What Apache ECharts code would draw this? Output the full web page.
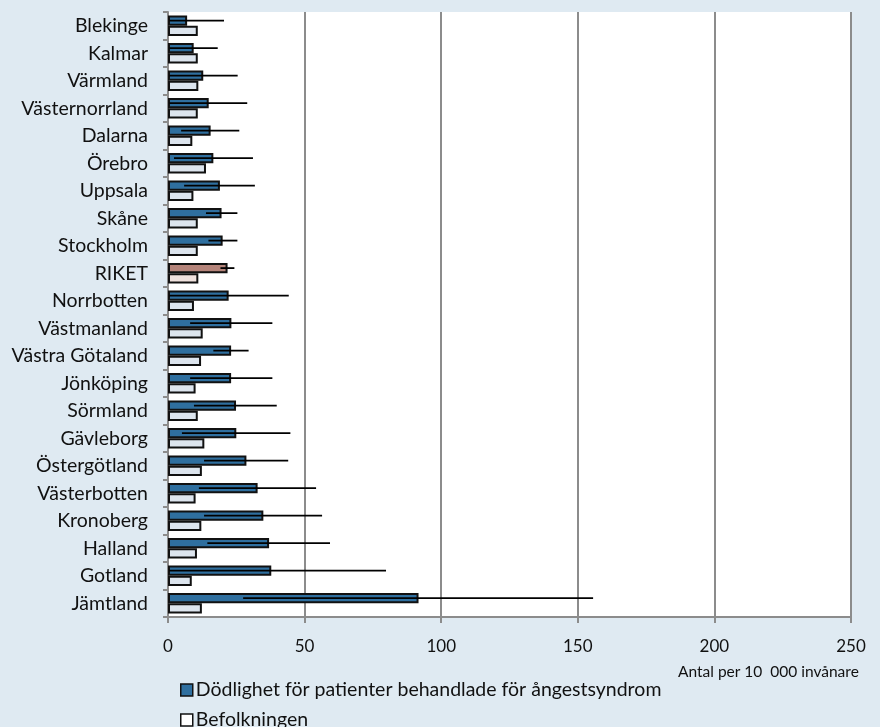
<!DOCTYPE html>
<html><head><meta charset="utf-8">
<script src="https://cdn.jsdelivr.net/npm/echarts@6/dist/echarts.min.js"></script>
<style>html,body{margin:0;padding:0;background:#dfeaf2;}#c{width:880px;height:727px;}</style>
</head><body><div id="c"></div>
<script>
const categories = ['Blekinge','Kalmar','Värmland','Västernorrland','Dalarna','Örebro','Uppsala','Skåne','Stockholm','RIKET','Norrbotten','Västmanland','Västra Götaland','Jönköping','Sörmland','Gävleborg','Östergötland','Västerbotten','Kronoberg','Halland','Gotland','Jämtland'];
const mortality = [7.0,9.4,12.9,14.9,15.6,16.6,19.0,19.6,20.0,21.8,22.2,23.2,23.1,23.1,24.9,25.0,28.7,32.8,34.9,37.0,37.8,91.7];
const ciLow =     [0.5,0.5,0.5,0.5,4.8,2.2,5.9,13.9,14.8,19.2,0.5,8.1,16.6,8.1,9.5,5.1,13.2,11.3,13.2,14.4,0.4,27.5];
const ciHigh =    [20.5,18.2,25.5,29.0,26.1,31.1,31.8,25.4,25.4,24.3,44.2,38.2,29.5,38.2,39.8,44.8,44.0,54.2,56.4,59.3,79.8,155.6];
const population = [10.9,10.9,11.1,10.9,8.9,13.9,9.3,10.9,10.9,11.1,9.5,12.7,12.1,10.1,10.9,13.3,12.4,10.1,12.2,10.6,8.7,12.4];
const xTicks = {min:0, max:250, interval:50};
const seriesNames = ['Dödlighet för patienter behandlade för ångestsyndrom','Befolkningen'];
const unitLabel = 'Antal per 10  000 invånare';

const FONT = 'Lato';
const GAP = 0.25;
const chart = echarts.init(document.getElementById('c'));
const mortData = mortality.map((v,i)=> categories[i]==='RIKET' ? {value:v,itemStyle:{color:'#b5847a'}} : v);
const popData = population.map((v,i)=> categories[i]==='RIKET' ? {value:v,itemStyle:{color:'#f0e2de'}} : v);
const errData = ciLow.map((lo,i)=>[lo, ciHigh[i], i]);
const legendBase = {orient:'horizontal',left:175,itemWidth:12,itemHeight:12,
  textStyle:{fontSize:19.5,color:'#111',fontFamily:FONT,padding:[0,0,0,-2]}};
chart.setOption({
  backgroundColor:'#dfeaf2',
  textStyle:{fontFamily:FONT},
  grid:{left:168,right:29,top:12,bottom:110,show:true,backgroundColor:'#ffffff',borderWidth:0},
  xAxis:{type:'value',min:xTicks.min,max:xTicks.max,interval:xTicks.interval,
    axisLine:{show:true,lineStyle:{color:'#8c8c8c',width:2}},
    axisTick:{show:true,length:6,lineStyle:{color:'#8c8c8c',width:2}},
    splitLine:{show:true,lineStyle:{color:'#8c8c8c',width:2}},
    axisLabel:{fontSize:17,color:'#111',margin:21,fontFamily:FONT}},
  yAxis:{type:'category',inverse:true,data:categories,
    axisLine:{show:true,lineStyle:{color:'#8c8c8c',width:2}},
    axisTick:{show:true,length:5,lineStyle:{color:'#8c8c8c',width:2}},
    axisLabel:{fontSize:19.5,color:'#111',margin:20,fontFamily:FONT}},
  legend:[
    Object.assign({}, legendBase, {top:675,
      data:[{name:seriesNames[0],icon:'rect',itemStyle:{color:'#2f6f9f',borderColor:'#111',borderWidth:1.5}}]}),
    Object.assign({}, legendBase, {top:705,
      data:[{name:seriesNames[1],icon:'rect',itemStyle:{color:'#ffffff',borderColor:'#111',borderWidth:1.5}}]})
  ],
  graphic:[{type:'text',left:678,top:664,style:{text:unitLabel,fontSize:15.5,fill:'#111',fontFamily:FONT}}],
  series:[
    {name:seriesNames[0],type:'bar',data:mortData,barGap:'0%',barCategoryGap:(GAP*100)+'%',
     itemStyle:{color:'#2f6f9f',borderColor:'#111',borderWidth:2},animation:false},
    {name:seriesNames[1],type:'bar',data:popData,barGap:'0%',barCategoryGap:(GAP*100)+'%',
     itemStyle:{color:'#dde5ee',borderColor:'#111',borderWidth:2},animation:false},
    {name:'err',type:'custom',data:errData,encode:{x:[0,1],y:2},z:10,animation:false,
     renderItem:function(params,api){
       const lo = api.coord([api.value(0), api.value(2)]);
       const hi = api.coord([api.value(1), api.value(2)]);
       const band = Math.abs(api.size([0,1])[1]);
       const off = -band*(1-GAP)/4;
       return {type:'line',shape:{x1:lo[0],y1:lo[1]+off,x2:hi[0],y2:hi[1]+off},style:{stroke:'#000',lineWidth:1.8}};
     }}
  ]
});
</script></body></html>
